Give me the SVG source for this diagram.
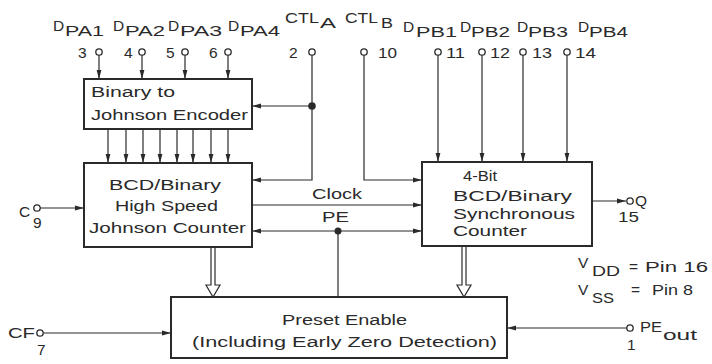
<svg xmlns="http://www.w3.org/2000/svg" width="712" height="364" viewBox="0 0 712 364">
<defs>
<style>
text{font-family:"Liberation Sans",Arial,sans-serif;fill:#2a2a2a;}
.t{font-size:15.5px;}
.l{font-size:15.5px;}
.box{fill:none;stroke:#2a2a2a;stroke-width:2;}
.w{fill:none;stroke:#2a2a2a;stroke-width:1.2;}
.pin{fill:#fff;stroke:#2a2a2a;stroke-width:1.3;}
.dot{fill:#2a2a2a;}
</style>
<marker id="ah" markerUnits="userSpaceOnUse" markerWidth="9" markerHeight="6" refX="9" refY="3" orient="auto">
<path d="M0,0.6 L9,3 L0,5.4 z" fill="#2a2a2a"/>
</marker>
</defs>
<rect width="712" height="364" fill="#fff"/>

<g id="connectors">
<line class="w" x1="99" y1="55" x2="99" y2="79" marker-end="url(#ah)"/>
<line class="w" x1="142" y1="55" x2="142" y2="79" marker-end="url(#ah)"/>
<line class="w" x1="185" y1="55" x2="185" y2="79" marker-end="url(#ah)"/>
<line class="w" x1="228" y1="55" x2="228" y2="79" marker-end="url(#ah)"/>
<line class="w" x1="108" y1="129" x2="108" y2="163" marker-end="url(#ah)"/>
<line class="w" x1="126" y1="129" x2="126" y2="163" marker-end="url(#ah)"/>
<line class="w" x1="143" y1="129" x2="143" y2="163" marker-end="url(#ah)"/>
<line class="w" x1="160" y1="129" x2="160" y2="163" marker-end="url(#ah)"/>
<line class="w" x1="177" y1="129" x2="177" y2="163" marker-end="url(#ah)"/>
<line class="w" x1="193" y1="129" x2="193" y2="163" marker-end="url(#ah)"/>
<line class="w" x1="211" y1="129" x2="211" y2="163" marker-end="url(#ah)"/>
<line class="w" x1="228" y1="129" x2="228" y2="163" marker-end="url(#ah)"/>
<polyline class="w" points="312,55 312,180 252,180" marker-end="url(#ah)"/>
<line class="w" x1="312" y1="106" x2="252" y2="106" marker-end="url(#ah)"/>
<circle class="dot" cx="312" cy="106" r="3.8"/>
<polyline class="w" points="364,55 364,180 422,180" marker-end="url(#ah)"/>
<line class="w" x1="438" y1="55" x2="438" y2="162" marker-end="url(#ah)"/>
<line class="w" x1="482" y1="55" x2="482" y2="162" marker-end="url(#ah)"/>
<line class="w" x1="523" y1="55" x2="523" y2="162" marker-end="url(#ah)"/>
<line class="w" x1="567" y1="55" x2="567" y2="162" marker-end="url(#ah)"/>
<line class="w" x1="252" y1="205" x2="422" y2="205" marker-end="url(#ah)"/>
<line class="w" x1="338" y1="231" x2="252" y2="231" marker-end="url(#ah)"/>
<line class="w" x1="338" y1="231" x2="422" y2="231" marker-end="url(#ah)"/>
<line class="w" x1="338" y1="231" x2="338" y2="297"/>
<circle class="dot" cx="338" cy="231" r="3.5"/>
<line class="w" x1="40" y1="208" x2="84" y2="208" marker-end="url(#ah)"/>
<line class="w" x1="43" y1="333" x2="171" y2="333" marker-end="url(#ah)"/>
<line class="w" x1="592" y1="201" x2="626" y2="201" marker-end="url(#ah)"/>
<line class="w" x1="627" y1="328" x2="507" y2="328" marker-end="url(#ah)"/>
<path class="w" d="M211,247 V285 H206 L213,297 L220,285 H215 V247"/>
<path class="w" d="M462,246 V285 H457 L464,297 L471,285 H466 V246"/>
<circle class="pin" cx="99" cy="52" r="3.2"/>
<circle class="pin" cx="142" cy="52" r="3.2"/>
<circle class="pin" cx="185" cy="52" r="3.2"/>
<circle class="pin" cx="228" cy="52" r="3.2"/>
<circle class="pin" cx="312" cy="52" r="3.2"/>
<circle class="pin" cx="364" cy="52" r="3.2"/>
<circle class="pin" cx="438" cy="52" r="3.2"/>
<circle class="pin" cx="482" cy="52" r="3.2"/>
<circle class="pin" cx="523" cy="52" r="3.2"/>
<circle class="pin" cx="567" cy="52" r="3.2"/>
<circle class="pin" cx="37" cy="208" r="3.2"/>
<circle class="pin" cx="40" cy="333" r="3.2"/>
<circle class="pin" cx="630" cy="201" r="3.2"/>
<circle class="pin" cx="630" cy="328" r="3.2"/>
</g>

<g id="encoder">
<rect class="box" x="84" y="79" width="168" height="50"/>
<text class="t" x="91" y="97" textLength="84" lengthAdjust="spacingAndGlyphs">Binary to</text>
<text class="t" x="91" y="120" textLength="157" lengthAdjust="spacingAndGlyphs">Johnson Encoder</text>
</g>

<g id="johnson">
<rect class="box" x="84" y="163" width="168" height="84"/>
<text class="t" x="109" y="190" textLength="112" lengthAdjust="spacingAndGlyphs">BCD/Binary</text>
<text class="t" x="115" y="211" textLength="103" lengthAdjust="spacingAndGlyphs">High Speed</text>
<text class="t" x="89" y="233" textLength="157" lengthAdjust="spacingAndGlyphs">Johnson Counter</text>
</g>

<g id="sync">
<rect class="box" x="422" y="162" width="170" height="84"/>
<text class="t" x="463" y="181" textLength="34" lengthAdjust="spacingAndGlyphs">4-Bit</text>
<text class="t" x="453" y="201" textLength="119" lengthAdjust="spacingAndGlyphs">BCD/Binary</text>
<text class="t" x="453" y="219" textLength="122" lengthAdjust="spacingAndGlyphs">Synchronous</text>
<text class="t" x="453" y="236" textLength="74" lengthAdjust="spacingAndGlyphs">Counter</text>
</g>

<g id="preset">
<rect class="box" x="171" y="297" width="336" height="61"/>
<text class="t" x="282" y="325" textLength="125" lengthAdjust="spacingAndGlyphs">Preset Enable</text>
<text class="t" x="192" y="347" textLength="305" lengthAdjust="spacingAndGlyphs">(Including Early Zero Detection)</text>
</g>

<g id="labels">
<text class="l" x="53" y="31">D</text><text class="l" x="65" y="36" textLength="39" lengthAdjust="spacingAndGlyphs">PA1</text>
<text class="l" x="113" y="31">D</text><text class="l" x="125" y="36" textLength="40" lengthAdjust="spacingAndGlyphs">PA2</text>
<text class="l" x="168" y="31">D</text><text class="l" x="180" y="36" textLength="42" lengthAdjust="spacingAndGlyphs">PA3</text>
<text class="l" x="228" y="31">D</text><text class="l" x="240" y="36" textLength="40" lengthAdjust="spacingAndGlyphs">PA4</text>
<text class="l" x="285" y="23" textLength="34" lengthAdjust="spacingAndGlyphs">CTL</text><text class="l" x="320" y="28" textLength="16" lengthAdjust="spacingAndGlyphs">A</text>
<text class="l" x="345" y="23" textLength="33" lengthAdjust="spacingAndGlyphs">CTL</text><text class="l" x="381" y="28" textLength="12" lengthAdjust="spacingAndGlyphs">B</text>
<text class="l" x="403" y="32">D</text><text class="l" x="416" y="37" textLength="41" lengthAdjust="spacingAndGlyphs">PB1</text>
<text class="l" x="460" y="32">D</text><text class="l" x="471" y="37" textLength="39" lengthAdjust="spacingAndGlyphs">PB2</text>
<text class="l" x="517" y="32">D</text><text class="l" x="528" y="37" textLength="40" lengthAdjust="spacingAndGlyphs">PB3</text>
<text class="l" x="578" y="32">D</text><text class="l" x="589" y="37" textLength="39" lengthAdjust="spacingAndGlyphs">PB4</text>
<text class="l" x="78" y="58">3</text>
<text class="l" x="124" y="58">4</text>
<text class="l" x="166" y="58">5</text>
<text class="l" x="209" y="58">6</text>
<text class="l" x="289" y="58">2</text>
<text class="l" x="378" y="58" textLength="19" lengthAdjust="spacingAndGlyphs">10</text>
<text class="l" x="446" y="58" textLength="19" lengthAdjust="spacingAndGlyphs">11</text>
<text class="l" x="490" y="58" textLength="20" lengthAdjust="spacingAndGlyphs">12</text>
<text class="l" x="532" y="58" textLength="20" lengthAdjust="spacingAndGlyphs">13</text>
<text class="l" x="575" y="58" textLength="21" lengthAdjust="spacingAndGlyphs">14</text>
<text class="l" x="312" y="199" textLength="50" lengthAdjust="spacingAndGlyphs">Clock</text>
<text class="l" x="322" y="222" textLength="27" lengthAdjust="spacingAndGlyphs">PE</text>
<text class="l" x="19" y="217">C</text>
<text class="l" x="33" y="228">9</text>
<text class="l" x="8" y="338" textLength="27" lengthAdjust="spacingAndGlyphs">CF</text>
<text class="l" x="37" y="355">7</text>
<text class="l" x="635" y="206">Q</text>
<text class="l" x="618" y="222" textLength="21" lengthAdjust="spacingAndGlyphs">15</text>
<text class="l" x="578" y="268">V</text><text class="l" x="592" y="276" textLength="28" lengthAdjust="spacingAndGlyphs">DD</text>
<text class="l" x="629" y="272">=</text>
<text class="l" x="645" y="272" textLength="63" lengthAdjust="spacingAndGlyphs">Pin 16</text>
<text class="l" x="578" y="295">V</text><text class="l" x="592" y="303" textLength="22" lengthAdjust="spacingAndGlyphs">SS</text>
<text class="l" x="631" y="295">=</text>
<text class="l" x="652" y="295" textLength="41" lengthAdjust="spacingAndGlyphs">Pin 8</text>
<text class="l" x="640" y="332" textLength="22" lengthAdjust="spacingAndGlyphs">PE</text><text class="l" x="663" y="340" textLength="34" lengthAdjust="spacingAndGlyphs">out</text>
<text class="l" x="627" y="350">1</text>
</g>
</svg>
